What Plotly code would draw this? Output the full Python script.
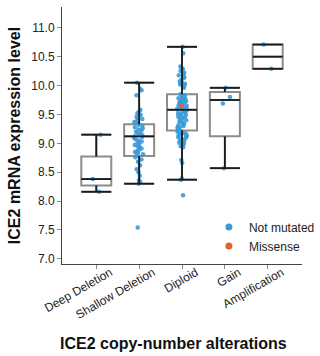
import plotly.graph_objects as go

# ---------------- data ----------------
categories = ["Deep Deletion", "Shallow Deletion", "Diploid", "Gain", "Amplification"]

# box statistics per category
box_q1 = [8.27, 8.78, 9.22, 9.12, 10.29]
box_median = [8.38, 9.12, 9.58, 9.75, 10.50]
box_q3 = [8.77, 9.33, 9.85, 9.89, 10.71]
box_lower = [8.16, 8.30, 8.37, 8.57, 10.29]
box_upper = [9.15, 10.05, 10.67, 9.96, 10.71]

# individual samples, not mutated
deep_deletion_vals = [8.16, 8.38, 9.15]
shallow_deletion_vals = [
    7.54, 8.30, 8.33, 8.36, 8.44, 8.50, 8.55, 8.62, 8.68, 8.72, 8.76,
    8.79, 8.81, 8.83, 8.85, 8.87, 8.89, 8.91, 8.93, 8.95, 8.97, 8.99, 9.01,
    9.03, 9.05, 9.07, 9.09, 9.11, 9.12, 9.14, 9.16, 9.18, 9.20, 9.22, 9.24,
    9.26, 9.28, 9.30, 9.32, 9.35, 9.37, 9.40, 9.42, 9.44, 9.46, 9.49, 9.52,
    9.55, 9.58, 9.83, 9.92, 9.94, 10.05,
]
diploid_vals = [
    8.10, 8.37, 8.39, 8.66, 8.71,
    8.93, 8.95, 8.97, 8.99, 9.01, 9.03, 9.04, 9.06, 9.07, 9.09, 9.10, 9.12,
    9.13, 9.14, 9.16, 9.17, 9.18, 9.19, 9.20, 9.21,
    9.22, 9.24, 9.25, 9.27, 9.28, 9.30, 9.31, 9.33, 9.34, 9.36, 9.37, 9.39,
    9.40, 9.42, 9.43, 9.45, 9.46, 9.48, 9.49, 9.51, 9.52, 9.54, 9.55, 9.57, 9.58,
    9.59, 9.60, 9.61, 9.62, 9.63, 9.65, 9.66, 9.67, 9.68, 9.69, 9.70, 9.71,
    9.72, 9.73, 9.74, 9.75, 9.76, 9.77, 9.78, 9.79, 9.80, 9.81, 9.82, 9.83, 9.85,
    9.96, 9.98, 10.00, 10.02, 10.03, 10.04, 10.05, 10.07, 10.10, 10.13, 10.15,
    10.18, 10.20, 10.22, 10.25, 10.28, 10.30, 10.33, 10.56, 10.67,
]
gain_vals = [8.57, 9.69, 9.80, 9.96]
amplification_vals = [10.29, 10.71]

# missense samples
missense_cat = [2]
missense_vals = [9.65]

BLUE = "#3a9bd8"
ORANGE = "#e0642c"
HALF = 0.35

fig = go.Figure()

# boxes (grey outline)
fig.add_trace(go.Box(
    x=list(range(len(categories))),
    q1=box_q1, median=box_median, q3=box_q3,
    lowerfence=box_lower, upperfence=box_upper,
    width=2 * HALF, whiskerwidth=1,
    line=dict(color="#8c8c8c", width=2),
    fillcolor="rgba(0,0,0,0)",
    boxpoints=False, showlegend=False, hoverinfo="skip",
))

# black whiskers, caps and medians
wx, wy = [], []
for i in range(len(categories)):
    wx += [i, i, None, i, i, None]
    wy += [box_q3[i], box_upper[i], None, box_q1[i], box_lower[i], None]
    for v in (box_upper[i], box_lower[i], box_median[i]):
        wx += [i - HALF, i + HALF, None]
        wy += [v, v, None]
fig.add_trace(go.Scatter(
    x=wx, y=wy, mode="lines",
    line=dict(color="#1a1a1a", width=1.8),
    showlegend=False, hoverinfo="skip",
))

# jittered sample points
groups = [deep_deletion_vals, shallow_deletion_vals, diploid_vals, gain_vals, amplification_vals]
px, py = [], []
for i, vals in enumerate(groups):
    px += [i] * len(vals)
    py += vals
fig.add_trace(go.Box(
    x=px, y=py, boxpoints="all", jitter=0.36, pointpos=0,
    width=2 * HALF,
    line=dict(color="rgba(0,0,0,0)", width=0),
    fillcolor="rgba(0,0,0,0)",
    marker=dict(color=BLUE, size=4.5, opacity=0.9),
    showlegend=False, name="Not mutated",
))

fig.add_trace(go.Scatter(
    x=missense_cat, y=missense_vals, mode="markers", name="Missense",
    marker=dict(color=ORANGE, size=4.5), showlegend=False,
))

# legend entries
fig.add_trace(go.Scatter(
    x=[None], y=[None], mode="markers", name="Not mutated",
    marker=dict(color=BLUE, size=7),
))
fig.add_trace(go.Scatter(
    x=[None], y=[None], mode="markers", name="Missense",
    marker=dict(color=ORANGE, size=7),
))

fig.update_layout(
    width=320, height=356,
    margin=dict(l=62, r=0, t=7, b=92),
    paper_bgcolor="white", plot_bgcolor="white",
    boxmode="overlay",
    font=dict(family="Liberation Sans, Arial, sans-serif", color="#222", size=11),
    legend=dict(
        x=0.612, y=0.2, xanchor="left", yanchor="top",
        bgcolor="rgba(0,0,0,0)", font=dict(size=12, color="#222"),
        itemsizing="trace",
    ),
    xaxis=dict(
        range=[-0.8, 4.8],
        tickmode="array", tickvals=list(range(len(categories))), ticktext=categories,
        tickangle=-30, ticks="outside", ticklen=4, tickcolor="#888",
        ticklabelshift=14, ticklabelstandoff=-8,
        showline=True, linecolor="#444", linewidth=1,
        showgrid=False, zeroline=False,
        tickfont=dict(size=12, color="#222"),
    ),
    yaxis=dict(
        range=[6.91, 11.36],
        tickmode="array", tickvals=[7.0, 7.5, 8.0, 8.5, 9.0, 9.5, 10.0, 10.5, 11.0],
        tickformat=".1f",
        ticks="outside", ticklen=4, tickcolor="#888",
        showline=True, linecolor="#444", linewidth=1,
        showgrid=False, zeroline=False,
        tickfont=dict(size=12, color="#222"),
        title=dict(text="<b>ICE2 mRNA expression level</b>", font=dict(size=16, color="#111"), standoff=6),
    ),
    annotations=[dict(
        text="<b>ICE2 copy-number alterations</b>",
        xref="paper", yref="paper", x=0.465, y=-0.311,
        xanchor="center", yanchor="middle", showarrow=False,
        font=dict(size=16, color="#111"),
    )],
)

fig.write_html("out.html")
